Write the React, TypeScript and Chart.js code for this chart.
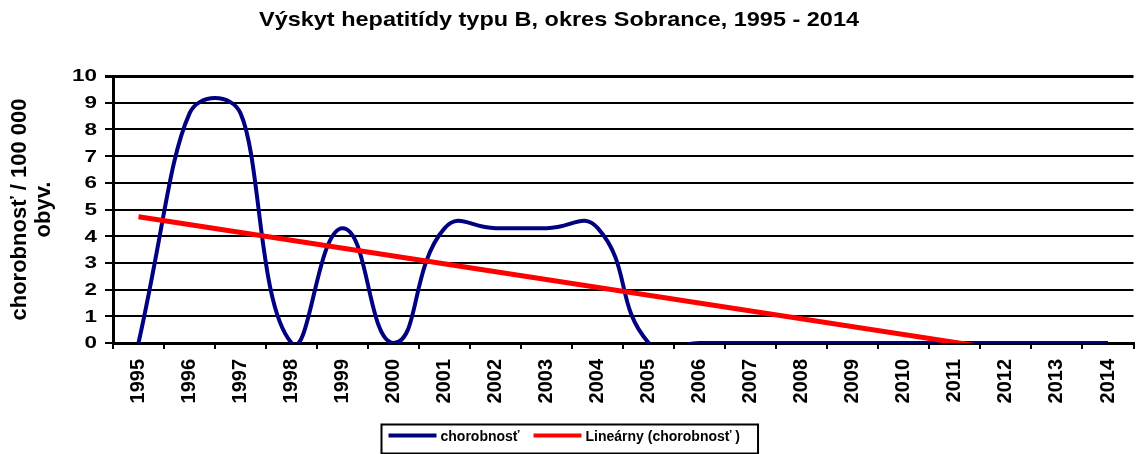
import React, { useEffect, useRef } from 'react';
import { Chart, registerables } from 'chart.js';

Chart.register(...registerables);

const FONT = '"Liberation Sans", Arial, Helvetica, sans-serif';

const chartTitle = 'Výskyt hepatitídy typu B, okres Sobrance, 1995 - 2014';
const yAxisTitle = ['chorobnosť / 100 000', 'obyv.'];

const years = [
  '1995', '1996', '1997', '1998', '1999', '2000', '2001', '2002', '2003', '2004',
  '2005', '2006', '2007', '2008', '2009', '2010', '2011', '2012', '2013', '2014',
];

// chorobnosť / 100 000 obyv.
const incidence = [0, 8.6, 8.6, 0, 4.3, 0, 4.3, 4.3, 4.3, 4.3, 0, 0, 0, 0, 0, 0, 0, 0, 0, 0];

// linear trend line, values read at first and last year
const trendStart = 4.73;
const trendEnd = -0.86;

const seriesLabel = 'chorobnosť';
const trendLabel = 'Lineárny (chorobnosť )';

const yMin = 0;
const yMax = 10;
const yStep = 1;

const BLUE = '#000080';
const RED = '#FF0000';

// Excel-like smoothing: length-weighted spline control points, with each
// control arm limited to the shorter neighbouring segment.
const excelSmoothPlugin = {
  id: 'excelSmooth',
  afterDatasetUpdate(chart: any, args: any) {
    const meta = chart.getDatasetMeta(args.index);
    const ds = chart.data.datasets[args.index];
    if (!ds || !(ds.tension > 0)) return;
    const pts = meta.data;
    const line = meta.dataset;
    const t = 0.5;
    const n = pts.length;
    for (let i = 0; i < n; i++) {
      const cur = pts[i];
      const prev = i > 0 ? pts[i - 1] : cur;
      const next = i < n - 1 ? pts[i + 1] : cur;
      const d01 = Math.hypot(cur.x - prev.x, cur.y - prev.y);
      const d12 = Math.hypot(next.x - cur.x, next.y - cur.y);
      const sum = d01 + d12 || 1;
      const fa = d01 / sum;
      const fb = d12 / sum;
      const vx = next.x - prev.x;
      const vy = next.y - prev.y;
      let ax = fa * t * vx;
      let ay = fa * t * vy;
      let bx = fb * t * vx;
      let by = fb * t * vy;
      const cap = Math.min(d01 || Infinity, d12 || Infinity);
      const la = Math.hypot(ax, ay);
      if (la > cap && la > 0) {
        ax *= cap / la;
        ay *= cap / la;
      }
      const lb = Math.hypot(bx, by);
      if (lb > cap && lb > 0) {
        bx *= cap / lb;
        by *= cap / lb;
      }
      cur.cp1x = cur.x - ax;
      cur.cp1y = cur.y - ay;
      cur.cp2x = cur.x + bx;
      cur.cp2y = cur.y + by;
    }
    if (line) line._pointsUpdated = true;
  },
};

// Title drawn slightly widened, as in the reference
const titlePlugin = {
  id: 'wideTitle',
  afterDraw(chart: any) {
    const ctx = chart.ctx as CanvasRenderingContext2D;
    ctx.save();
    ctx.font = `bold 21px ${FONT}`;
    ctx.fillStyle = '#000';
    ctx.textAlign = 'center';
    ctx.textBaseline = 'alphabetic';
    const w = ctx.measureText(chartTitle).width;
    const sx = 600 / w;
    ctx.translate(559, 26);
    ctx.scale(sx, 1);
    ctx.fillText(chartTitle, 0, 0);
    ctx.restore();
  },
};

// y tick labels, widened like the reference
const yLabelPlugin = {
  id: 'yLabels',
  afterDraw(chart: any) {
    const ctx = chart.ctx as CanvasRenderingContext2D;
    const ys = chart.scales.y;
    ctx.save();
    ctx.font = `bold 16px ${FONT}`;
    ctx.fillStyle = '#000';
    ctx.textAlign = 'right';
    ctx.textBaseline = 'middle';
    ys.ticks.forEach((tk: any) => {
      const py = ys.getPixelForValue(tk.value);
      ctx.save();
      ctx.translate(ys.right - 16, py + 1);
      ctx.scale(1.4, 1);
      ctx.fillText(String(tk.value), 0, 0);
      ctx.restore();
    });
    ctx.restore();
  },
};

const legendBoxPlugin = {
  id: 'legendBox',
  afterDraw(chart: any) {
    const ctx = chart.ctx as CanvasRenderingContext2D;
    ctx.save();
    ctx.font = `bold 14px ${FONT}`;
    const items = chart.data.datasets.map((ds: any) => ({ label: ds.label, color: ds.borderColor }));
    const sampleW = 48;
    const gap = 4;
    const itemGap = 14;
    const padL = 7;
    const padR = 18;
    const widths = items.map((it: any) => sampleW + gap + ctx.measureText(it.label).width);
    const total = widths.reduce((a: number, b: number) => a + b, 0) + itemGap * (items.length - 1) + padL + padR;
    const left = Math.round(569.5 - total / 2) + 0.5;
    const top = 424.5;
    const h = 29;
    ctx.strokeStyle = '#000';
    ctx.lineWidth = 2;
    ctx.strokeRect(left, top, total, h);
    let x = left + padL;
    const cy = top + 11;
    items.forEach((it: any, i: number) => {
      ctx.fillStyle = it.color;
      ctx.fillRect(x, cy - 2, sampleW, 4);
      ctx.fillStyle = '#000';
      ctx.textBaseline = 'middle';
      ctx.textAlign = 'left';
      ctx.fillText(it.label, x + sampleW + gap, cy + 2);
      x += widths[i] + itemGap;
    });
    ctx.restore();
  },
};

export default function App() {
  const ref = useRef<HTMLCanvasElement | null>(null);

  useEffect(() => {
    if (!ref.current) return;
    const trendData = years.map((_, i) =>
      i === 0 ? trendStart : i === years.length - 1 ? trendEnd : null
    );
    const chart = new Chart(ref.current, {
      type: 'line',
      data: {
        labels: years,
        datasets: [
          {
            label: seriesLabel,
            data: incidence,
            borderColor: BLUE,
            backgroundColor: BLUE,
            borderWidth: 4,
            pointRadius: 0,
            tension: 0.5,
            order: 1,
          },
          {
            label: trendLabel,
            data: trendData as any,
            borderColor: RED,
            backgroundColor: RED,
            borderWidth: 5,
            pointRadius: 0,
            tension: 0,
            spanGaps: true,
            order: 0,
          },
        ],
      },
      options: {
        responsive: false,
        animation: false,
        layout: { padding: { top: 76, left: 0, right: 0, bottom: 0 } },
        elements: { line: { capBezierPoints: false } },
        plugins: {
          legend: { display: false },
          tooltip: { enabled: false },
          title: { display: false },
        },
        scales: {
          x: {
            offset: true,
            grid: {
              display: true,
              drawOnChartArea: false,
              drawTicks: true,
              tickLength: 6,
              offset: true,
              color: '#000',
              lineWidth: 2,
            },
            border: { display: true, color: '#000', width: 3 },
            ticks: {
              color: '#000',
              font: { family: FONT, size: 20, weight: 'bold' },
              minRotation: 90,
              maxRotation: 90,
              autoSkip: false,
              padding: 10,
            },
            afterFit: (s: any) => {
              s.height = 111;
            },
          },
          y: {
            min: yMin,
            max: yMax,
            ticks: {
              stepSize: yStep,
              display: false,
            },
            grid: {
              color: '#000',
              lineWidth: (c: any) => (c.tick && c.tick.value === yMax ? 3 : 2),
              tickLength: 8,
            },
            border: { display: true, color: '#000', width: 3 },
            title: {
              display: true,
              text: yAxisTitle,
              color: '#000',
              font: { family: FONT, size: 22, weight: 'bold', lineHeight: 1.1 },
              padding: { top: 8, bottom: 0 },
            },
            afterFit: (s: any) => {
              s.width = 113;
            },
          },
        },
      },
      plugins: [excelSmoothPlugin, titlePlugin, yLabelPlugin, legendBoxPlugin],
    } as any);
    return () => chart.destroy();
  }, []);

  return (
    <div style={{ position: 'absolute', left: 0, top: 0, width: 1142, height: 454, background: '#fff' }}>
      <canvas ref={ref} width={1142} height={454} style={{ width: 1142, height: 454, display: 'block' }} />
    </div>
  );
}
